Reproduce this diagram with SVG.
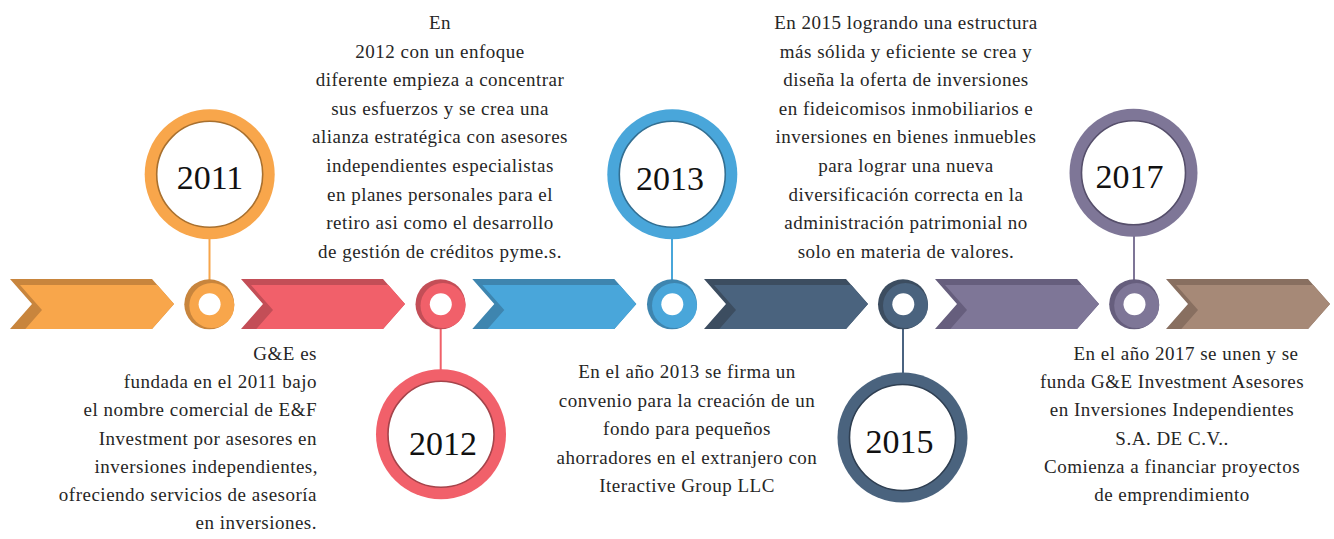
<svg xmlns="http://www.w3.org/2000/svg" width="1334" height="539" viewBox="0 0 1334 539">
<style>
.t{font-family:"Liberation Serif","DejaVu Serif",serif;font-size:19px;letter-spacing:0.5px;fill:#262626}
.m{text-anchor:middle}
.e{text-anchor:end}
.yr{font-family:"Liberation Serif","DejaVu Serif",serif;font-size:34px;fill:#111;text-anchor:middle;font-variant-numeric:oldstyle-nums}
.hole{fill:#fff}
.inner{fill:#fff;stroke-width:1.6}
</style>
<defs>
<polygon id="chevD" points="0,279 142,279 164,304 142,329 0,329 22,304"/>
<polygon id="chevL" points="10,285 147.3,285 164,304 142,329 15.3,329 32,310"/>
</defs>
<rect width="1334" height="539" fill="#fff"/>

<g id="connectors">
<line x1="209.5" y1="239" x2="209.5" y2="280" stroke="#F7A54A" stroke-width="2"/>
<line x1="440.7" y1="328" x2="440.7" y2="370" stroke="#F06069" stroke-width="2"/>
<line x1="672" y1="239" x2="672" y2="280" stroke="#48A6DA" stroke-width="2"/>
<line x1="903" y1="328" x2="903" y2="373" stroke="#4A6380" stroke-width="2"/>
<line x1="1134" y1="236" x2="1134" y2="280" stroke="#7E7597" stroke-width="2"/>
</g>

<g id="arrow-1" transform="translate(10,0)"><use href="#chevD" fill="#C8853D"/><use href="#chevL" fill="#F8A64B"/></g>
<g id="arrow-2" transform="translate(241,0)"><use href="#chevD" fill="#C34E57"/><use href="#chevL" fill="#F1606A"/></g>
<g id="arrow-3" transform="translate(472.3,0)"><use href="#chevD" fill="#3E85AF"/><use href="#chevL" fill="#49A6DA"/></g>
<g id="arrow-4" transform="translate(704,0)"><use href="#chevD" fill="#3C4D60"/><use href="#chevL" fill="#4A637E"/></g>
<g id="arrow-5" transform="translate(935,0)"><use href="#chevD" fill="#665E7D"/><use href="#chevL" fill="#7E7697"/></g>
<g id="arrow-6" transform="translate(1166,0)"><use href="#chevD" fill="#886F60"/><use href="#chevL" fill="#A68977"/></g>

<g id="dot-1"><circle cx="209.3" cy="304.3" r="25" fill="#C8853D"/><circle cx="211.8" cy="305.6" r="22.5" fill="#F8A64B"/><circle class="hole" cx="209.6" cy="304.3" r="11"/></g>
<g id="dot-2"><circle cx="440.5" cy="304.3" r="25" fill="#C34E57"/><circle cx="443" cy="305.6" r="22.5" fill="#F1606A"/><circle class="hole" cx="440.8" cy="304.3" r="11"/></g>
<g id="dot-3"><circle cx="672" cy="304.3" r="25" fill="#3E85AF"/><circle cx="674.5" cy="305.6" r="22.5" fill="#49A6DA"/><circle class="hole" cx="672.3" cy="304.3" r="11"/></g>
<g id="dot-4"><circle cx="903" cy="304.3" r="25" fill="#3C4D60"/><circle cx="905.5" cy="305.6" r="22.5" fill="#4A637E"/><circle class="hole" cx="903.3" cy="304.3" r="11"/></g>
<g id="dot-5"><circle cx="1134.2" cy="304.3" r="25" fill="#665E7D"/><circle cx="1136.7" cy="305.6" r="22.5" fill="#7E7697"/><circle class="hole" cx="1134.5" cy="304.3" r="11"/></g>

<g id="year-2011"><circle cx="209.7" cy="174.3" r="65" fill="#F8A64B"/><circle class="inner" cx="209.7" cy="174.3" r="53" stroke="#A8702F"/><text class="yr" x="210" y="189">2011</text></g>
<g id="year-2012"><circle cx="441" cy="434.3" r="65" fill="#F1606A"/><circle class="inner" cx="441" cy="434.3" r="53" stroke="#A5444B"/><text class="yr" x="443" y="455">2012</text></g>
<g id="year-2013"><circle cx="672.3" cy="174.3" r="65" fill="#49A6DA"/><circle class="inner" cx="672.3" cy="174.3" r="53" stroke="#336F92"/><text class="yr" x="670" y="190">2013</text></g>
<g id="year-2015"><circle cx="902.5" cy="437.5" r="65" fill="#4A637E"/><circle class="inner" cx="902.5" cy="437.5" r="53" stroke="#2F3F52"/><text class="yr" x="899.5" y="453">2015</text></g>
<g id="year-2017"><circle cx="1133.5" cy="172.8" r="64" fill="#7E7697"/><circle class="inner" cx="1133.5" cy="172.8" r="52" stroke="#564F6B"/><text class="yr" x="1129.5" y="188">2017</text></g>

<g id="text-2011" class="t e">
<text x="317" y="360">G&amp;E es</text>
<text x="317" y="388.2">fundada en el 2011 bajo</text>
<text x="317" y="416.4">el nombre comercial de E&amp;F</text>
<text x="317" y="444.6">Investment por asesores en</text>
<text x="318" y="472.8">inversiones independientes,</text>
<text x="317" y="501">ofreciendo servicios de asesoría</text>
<text x="317" y="529.2">en inversiones.</text>
</g>

<g id="text-2012" class="t m">
<text x="440" y="29">En</text>
<text x="440" y="57.6">2012 con un enfoque</text>
<text x="440" y="86.2">diferente empieza a concentrar</text>
<text x="440" y="114.8">sus esfuerzos y se crea una</text>
<text x="440" y="143.4">alianza estratégica con asesores</text>
<text x="440" y="172">independientes especialistas</text>
<text x="440" y="200.6">en planes personales para el</text>
<text x="440" y="229.2">retiro asi como el desarrollo</text>
<text x="440" y="257.8">de gestión de créditos pyme.s.</text>
</g>

<g id="text-2013" class="t m">
<text x="687" y="378">En el año 2013 se firma un</text>
<text x="687" y="406.5">convenio para la creación de un</text>
<text x="687" y="435">fondo para pequeños</text>
<text x="687" y="463.5">ahorradores en el extranjero con</text>
<text x="687" y="492">Iteractive Group LLC</text>
</g>

<g id="text-2015" class="t m">
<text x="906" y="29">En 2015 logrando una estructura</text>
<text x="906" y="57.6">más sólida y eficiente se crea y</text>
<text x="906" y="86.2">diseña la oferta de inversiones</text>
<text x="906" y="114.8">en fideicomisos inmobiliarios e</text>
<text x="906" y="143.4">inversiones en bienes inmuebles</text>
<text x="906" y="172">para lograr una nueva</text>
<text x="906" y="200.6">diversificación correcta en la</text>
<text x="906" y="229.2">administración patrimonial no</text>
<text x="906" y="257.8">solo en materia de valores.</text>
</g>

<g id="text-2017" class="t m">
<text x="1186" y="360">En el año 2017 se unen y se</text>
<text x="1172" y="388.2">funda G&amp;E Investment Asesores</text>
<text x="1172" y="416.4">en Inversiones Independientes</text>
<text x="1172" y="444.6">S.A. DE C.V..</text>
<text x="1172" y="472.8">Comienza a financiar proyectos</text>
<text x="1172" y="501">de emprendimiento</text>
</g>
</svg>
